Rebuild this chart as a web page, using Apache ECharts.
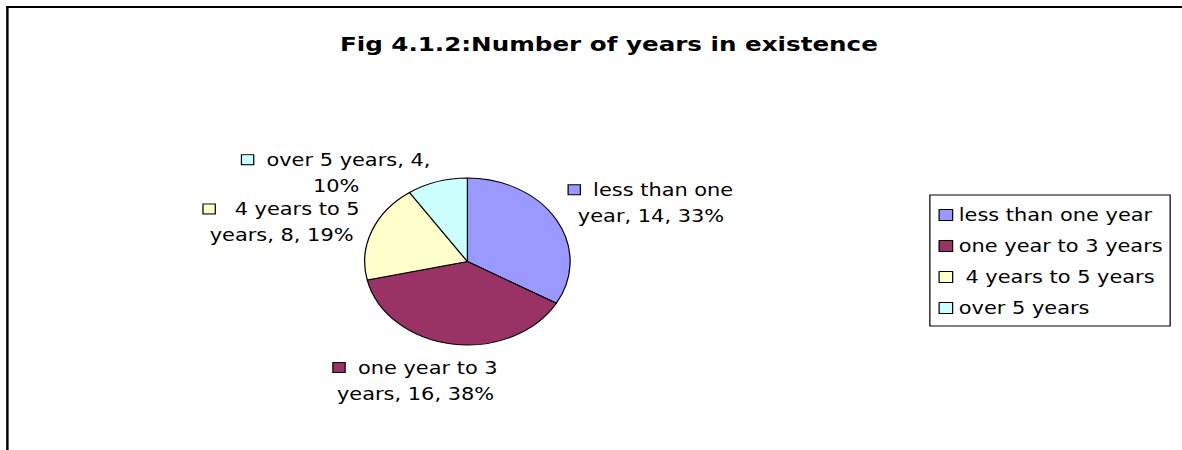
<!DOCTYPE html>
<html>
<head>
<meta charset="utf-8">
<title>Fig 4.1.2: Number of years in existence</title>
<script src="https://cdn.jsdelivr.net/npm/echarts@6/dist/echarts.min.js"></script>
<style>
  html, body { margin: 0; padding: 0; background: #fff; overflow: hidden; }
  /* the chart is laid out narrow and stretched sideways, giving the flattened pie */
  #chart { width: 961px; height: 450px; transform: scaleX(1.23); transform-origin: 0 0; }
</style>
</head>
<body>
<div id="chart"></div>
<script>
// Data
const categories = ['less than one year', 'one year to 3 years', ' 4 years to 5 years', 'over 5 years'];
const counts = [14, 16, 8, 4];
const sliceColors = ['#9999FF', '#993366', '#FFFFCC', '#CCFFFF'];
const titleText = 'Fig 4.1.2:Number of years in existence';

// Layout
const CX = 380, CY = 261.5, R = 83.5;
const labelReach = R + 18;
const labelNudge = [[3, 5], [-17, -7], [3, 7], [-54, 33]];
const FONT = 'DejaVu Sans';

const total = counts.reduce((a, b) => a + b, 0);
const starts = [];
counts.reduce((acc, v, i) => { starts[i] = acc; return acc + v; }, 0);

// greedy word wrap for slice labels
function wrap(text, maxChars) {
  const words = text.trim().split(' ');
  const lines = [];
  let cur = '';
  words.forEach(w => {
    const next = cur ? cur + ' ' + w : w;
    if (next.length > maxChars && cur) { lines.push(cur); cur = w; }
    else cur = next;
  });
  if (cur) lines.push(cur);
  return lines;
}

const rich = {};
sliceColors.forEach((c, i) => {
  rich['box' + i] = { width: 9, height: 9, backgroundColor: c, borderColor: '#000', borderWidth: 1 };
});

const chart = echarts.init(document.getElementById('chart'), null, { renderer: 'svg' });
chart.setOption({
  animation: false,
  backgroundColor: '#fff',
  title: {
    text: titleText,
    left: 490,
    top: 29,
    textAlign: 'center',
    textStyle: { fontFamily: FONT, fontWeight: 'bold', fontSize: 20, color: '#000' }
  },
  legend: {
    orient: 'vertical',
    left: 756,
    top: 195,
    padding: [10, 6, 8, 7],
    itemGap: 11,
    itemWidth: 11,
    itemHeight: 11,
    icon: 'rect',
    borderColor: '#000',
    borderWidth: 1,
    data: categories,
    textStyle: { fontFamily: FONT, fontSize: 17, lineHeight: 20, color: '#000' },
    itemStyle: { borderColor: '#000', borderWidth: 1 }
  },
  graphic: [
    { type: 'line', shape: { x1: 5, y1: 7, x2: 961, y2: 7 }, style: { stroke: '#000', lineWidth: 2 } },
    { type: 'line', shape: { x1: 6, y1: 6, x2: 6, y2: 450 }, style: { stroke: '#000', lineWidth: 2 } }
  ],
  series: [{
    type: 'pie',
    center: [CX, CY],
    radius: R,
    startAngle: 90,
    clockwise: true,
    avoidLabelOverlap: false,
    itemStyle: { borderColor: '#000', borderWidth: 1 },
    label: {
      show: true,
      position: 'outside',
      fontFamily: FONT,
      fontSize: 17,
      lineHeight: 26,
      color: '#000',
      rich: rich,
      formatter: function (p) {
        const i = p.dataIndex;
        const pct = Math.round(counts[i] / total * 100);
        const lead = categories[i].startsWith(' ') ? '   ' : '  ';
        const lines = wrap(categories[i] + ', ' + counts[i] + ', ' + pct + '%', 16);
        lines[0] = '{box' + i + '|}' + lead + lines[0];
        return lines.join('\n');
      }
    },
    labelLine: { show: false },
    labelLayout: function (p) {
      const i = p.dataIndex;
      const mid = (starts[i] + counts[i] / 2) / total * Math.PI * 2;
      const dx = Math.sin(mid), dy = -Math.cos(mid);
      const w = p.labelRect.width, h = p.labelRect.height;
      return {
        x: CX + labelReach * dx + dx * w / 2 + labelNudge[i][0],
        y: CY + labelReach * dy + dy * h / 2 + labelNudge[i][1],
        align: 'center',
        verticalAlign: 'middle'
      };
    },
    emphasis: { disabled: true },
    data: categories.map((name, i) => ({ name: name, value: counts[i], itemStyle: { color: sliceColors[i] } }))
  }]
});
</script>
</body>
</html>
